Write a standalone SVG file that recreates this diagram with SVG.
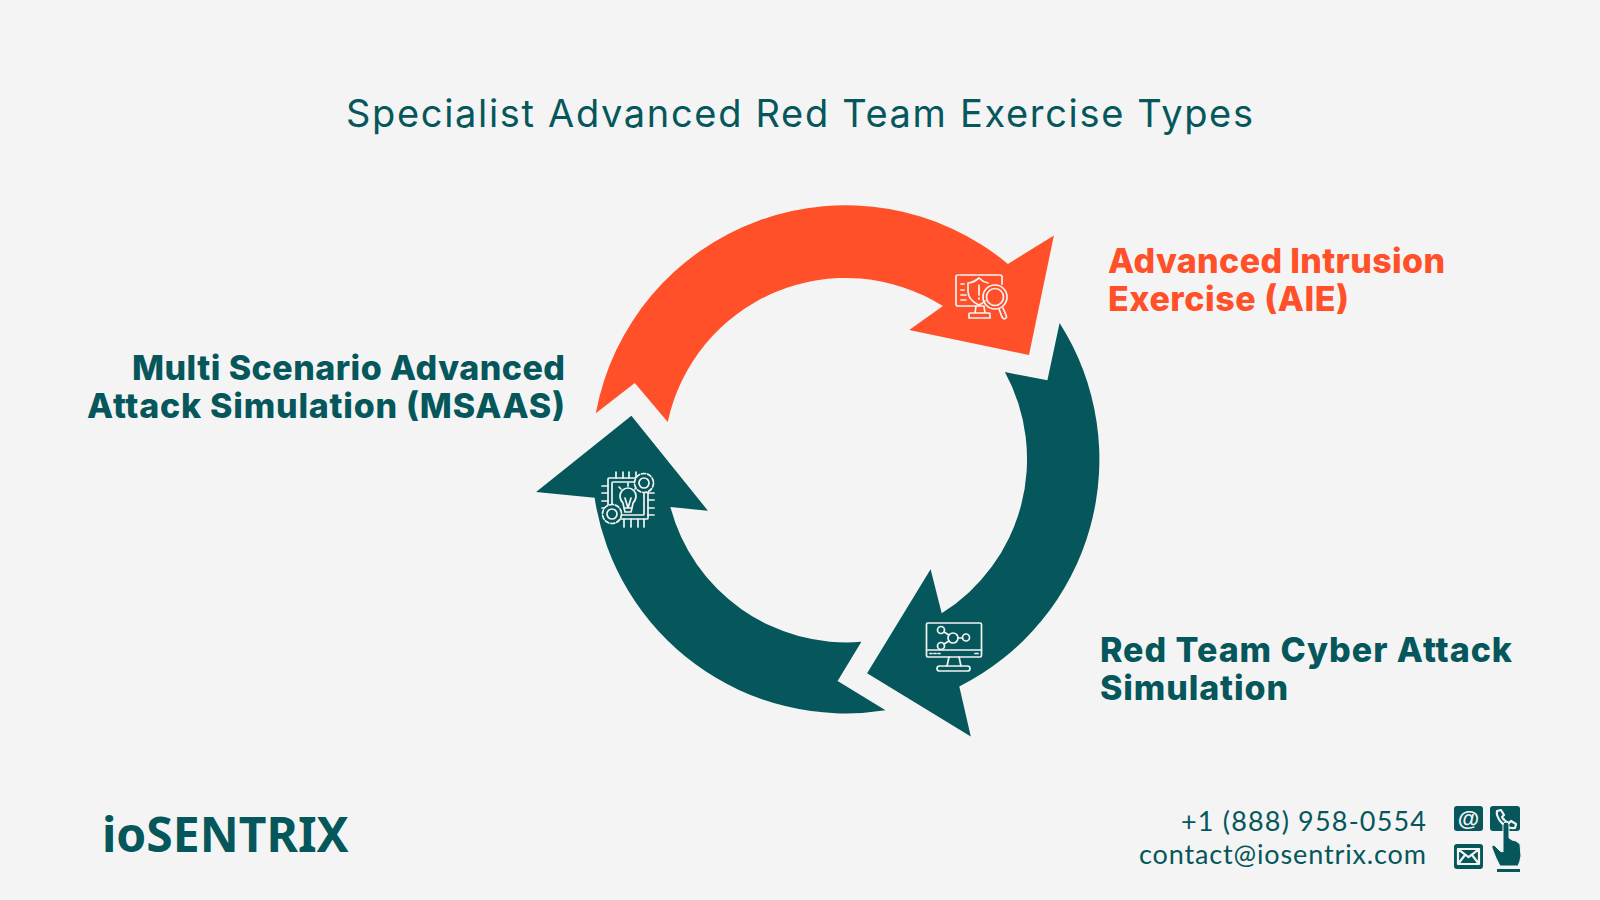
<svg xmlns="http://www.w3.org/2000/svg" width="1600" height="900" viewBox="0 0 1600 900">
<style>
.teal{fill:#05575b}.orange{fill:#ff5029}
.lab{font-family:"Inter","Liberation Sans",sans-serif;font-weight:800;font-size:34px}
.ic{fill:none;stroke:#f4f4f4;stroke-width:1.7;stroke-linecap:round;stroke-linejoin:round}
.gear{fill:#05575b}
.ct{font-family:"Lato","Liberation Sans",sans-serif;font-size:27px;fill:#05575b;text-anchor:end}
.w{fill:none;stroke:#f4f4f4;stroke-width:2.2;stroke-linecap:round;stroke-linejoin:round}
</style>
<rect width="1600" height="900" fill="#f4f4f4"/>
<text id="title" x="346" y="127" textLength="907" font-family="Inter, Liberation Sans, sans-serif" font-weight="400" font-size="38" fill="#05575b">Specialist Advanced Red Team Exercise Types</text>
<g id="connectors">
<path class="orange" d="M595.800 413.200L634.800 382.900L667.700 422.100A182 182 0 0 1 942.900 306.100L909.200 330L1029 355L1053.900 235.400L1007.900 263.900A254 254 0 0 0 595.800 413.200Z"/>
<path class="teal" d="M1059.600 322.900L1047.400 380.300L1004.900 372.100A182 182 0 0 1 941.700 613.300L930.600 569.300L867.100 673.200L970.800 736.400L959.300 686.400A254 254 0 0 0 1059.600 322.900Z"/>
<path class="teal" d="M885.500 710.300L837.600 681.100L861.400 641.800A182 182 0 0 1 670.400 507.100L707.900 510.700L631.400 415.700L536.100 492.100L594.600 497.800A254 254 0 0 0 885.500 710.300Z"/>
</g>
<g id="node-aie">
<text class="lab orange" x="1108" y="273" textLength="337">Advanced Intrusion</text>
<text class="lab orange" x="1108" y="311" textLength="241">Exercise (AIE)</text>
<g class="ic">
<path d="M983 306H958Q956 306 956 304V277Q956 275 958 275H1000Q1002 275 1002 277V284"/>
<path d="M976 306L975 313M984 306L985 313M969 318V314Q969 313 970 313H989Q990 313 990 314V318H969Z"/>
<path d="M979 278Q973 283 968 283V291Q968 300 979 305Q983 303 985 301M979 278Q983 282 988 283"/>
<path d="M979 285V295M979 298V299"/>
<path d="M961 284H964M961 290H964M961 295H966M961 300H966"/>
<circle cx="995" cy="297" r="12"/><circle cx="995" cy="297" r="8.500"/>
<path d="M999 309L1002 317Q1004 320 1006 318Q1007 317 1006 315L1003 308"/>
</g>
</g>
<g id="node-rtcas">
<text class="lab teal" x="1100" y="662" textLength="412">Red Team Cyber Attack</text>
<text class="lab teal" x="1100" y="700" textLength="188">Simulation</text>
<g class="ic">
<rect x="926.500" y="623" width="55" height="34" rx="1.500"/>
<path d="M926.500 650H981.500"/>
<path d="M930 653.500H932M934 653.500H936M938 653.500H940M975 653.500H978"/>
<path d="M949 657L947 666M959 657L961 666"/>
<rect x="937" y="666" width="33" height="5" rx="2.500"/>
<circle cx="953" cy="638" r="5"/><circle cx="941" cy="630" r="3.500"/><circle cx="941" cy="646" r="3.500"/><circle cx="966" cy="637.500" r="3.500"/>
<path d="M944 632L949 635M944 644L949 641M958 638H962.500"/>
</g>
</g>
<g id="node-msaas">
<text class="lab teal" x="565" y="380" text-anchor="end" textLength="433">Multi Scenario Advanced</text>
<text class="lab teal" x="565" y="418" text-anchor="end" textLength="478">Attack Simulation (MSAAS)</text>
<g class="ic">
<rect x="608" y="478" width="40" height="41" rx="1"/>
<rect x="612" y="482" width="32" height="33" rx="1"/>
<path d="M616 472V478M623 472V478M629 472V478M636 472V478M602 486H608M602 493H608M602 501H608M602 508H608M648 493H654M648 500H654M648 508H654M648 515H654M624 519V527M631 519V527M638 519V527M644 519V527"/>
<path d="M624 508L623 503Q620 500 620 496A8 8 0 0 1 636 496Q636 500 633 503L632 508ZM624 508L625 512H631L632 508M625 498L628 508M631 498L628 508"/>
<path d="M619 487L621 489M628 483V486M637 487L635 489"/>
<circle class="gear" cx="644" cy="483" r="9.500" stroke-dasharray="4 2"/><circle cx="644" cy="483" r="5"/>
<circle class="gear" cx="612" cy="514" r="9.500" stroke-dasharray="4 2"/><circle cx="612" cy="514" r="5"/>
</g>
</g>
<text id="logo" x="102" y="852" font-family="Noto Sans, Open Sans, sans-serif" font-weight="700" font-size="48" fill="#05575b">ioSENTRIX</text>
<g id="contact">
<text class="ct" x="1426" y="831" textLength="245">+1 (888) 958-0554</text>
<text class="ct" x="1426" y="864" textLength="287">contact@iosentrix.com</text>
<rect class="teal" x="1454" y="806" width="29" height="25" rx="3"/>
<text x="1468.500" y="826" text-anchor="middle" font-family="Liberation Sans, sans-serif" font-weight="700" font-size="22" fill="#f4f4f4">@</text>
<rect class="teal" x="1490" y="806" width="30" height="25" rx="3"/>
<path class="w" d="M1497 811L1501 810L1504 815L1502 817Q1504 821 1509 823L1511 821L1516 824L1515 828Q1507 829 1501 822Q1496 816 1497 811Z"/>
<rect class="teal" x="1454" y="844" width="29" height="25" rx="3"/>
<path class="w" d="M1458 849H1479V864H1458ZM1458 849L1468.500 857L1479 849M1458 864L1465 855M1479 864L1472 855"/>
<path class="teal" d="M1503 825Q1503 822 1506 822Q1509 822 1509 825V838L1512 840L1516 841L1520 844L1521 856Q1520 862 1518 866H1500L1496 858L1492 848Q1491 845 1494 845L1500 851L1503 852Z" stroke="#f4f4f4" stroke-width="1"/>
<rect class="teal" x="1497" y="869" width="23" height="3"/>
</g>
</svg>
